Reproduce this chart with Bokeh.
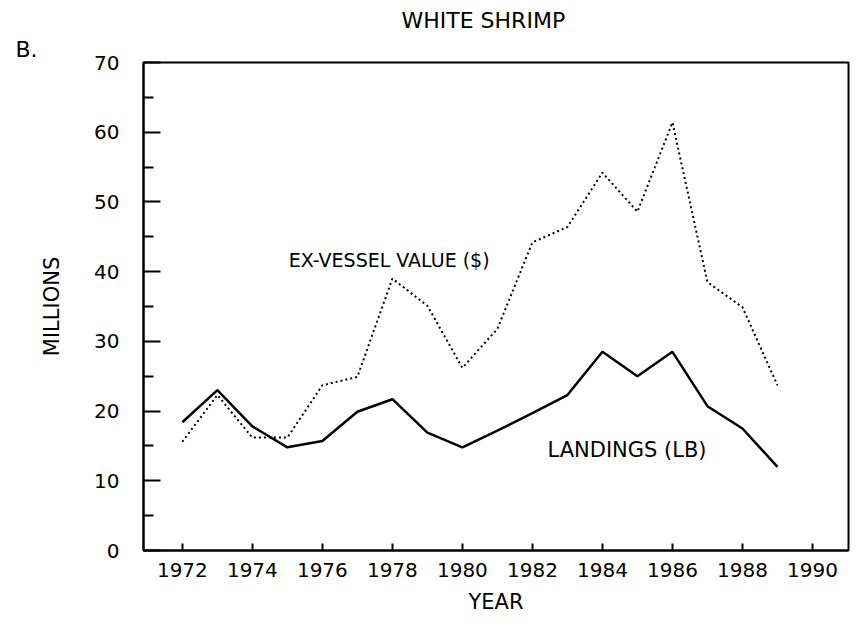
from bokeh.plotting import figure
from bokeh.models import Range1d, FixedTicker, Label, Title
from bokeh.embed import file_html
from bokeh.resources import INLINE

years = [1972, 1973, 1974, 1975, 1976, 1977, 1978, 1979, 1980,
         1981, 1982, 1983, 1984, 1985, 1986, 1987, 1988, 1989]
landings_lb = [18.4, 23.0, 17.8, 14.8, 15.7, 19.9, 21.7, 16.9, 14.8,
               17.2, 19.7, 22.3, 28.5, 25.0, 28.5, 20.7, 17.5, 12.0]
ex_vessel_value = [15.6, 22.3, 16.2, 16.2, 23.7, 24.9, 39.0, 35.1, 26.2,
                   31.8, 44.2, 46.4, 54.2, 48.6, 61.4, 38.5, 34.9, 23.7]
x_ticks = [1972, 1974, 1976, 1978, 1980, 1982, 1984, 1986, 1988, 1990]
y_ticks = [0, 10, 20, 30, 40, 50, 60, 70]
y_minor = [5, 15, 25, 35, 45, 55, 65]

FONT = "DejaVu Sans"

p = figure(width=850, height=620, output_backend="svg", toolbar_location=None,
           x_range=Range1d(1970.89, 1991.03), y_range=Range1d(0, 70),
           min_border_left=143, min_border_right=2,
           min_border_top=62, min_border_bottom=70)

p.background_fill_color = "white"
p.border_fill_color = "white"
p.outline_line_color = "black"
p.outline_line_width = 2
p.grid.visible = False

# titles above the frame
t_b = Title(text="B.", align="left", offset=-128, text_font=FONT,
            text_font_size="22px", text_font_style="normal",
            text_color="black", standoff=2)
t_main = Title(text="WHITE SHRIMP", align="left", offset=258, text_font=FONT,
               text_font_size="22px", text_font_style="normal",
               text_color="black", standoff=2)
p.add_layout(t_b, "above")
p.add_layout(t_main, "above")

# axes
p.xaxis.ticker = FixedTicker(ticks=x_ticks, minor_ticks=[])
p.yaxis.ticker = FixedTicker(ticks=y_ticks, minor_ticks=y_minor)
for ax in (p.xaxis, p.yaxis):
    ax.axis_line_color = "black"
    ax.axis_line_width = 2
    ax.major_tick_line_color = "black"
    ax.major_tick_line_width = 2
    ax.minor_tick_line_color = "black"
    ax.minor_tick_line_width = 2
    ax.major_tick_out = 0
    ax.minor_tick_out = 0
    ax.major_label_text_font = FONT
    ax.major_label_text_font_size = "20px"
    ax.major_label_text_color = "black"
    ax.axis_label_text_font = FONT
    ax.axis_label_text_font_style = "normal"
    ax.axis_label_text_color = "black"
p.xaxis.major_tick_in = 7
p.xaxis.minor_tick_in = 0
p.yaxis.major_tick_in = 17
p.yaxis.minor_tick_in = 10
p.xaxis.major_label_standoff = 12
p.yaxis.major_label_standoff = 24
p.xaxis.axis_label = "YEAR"
p.xaxis.axis_label_text_font_size = "21px"
p.xaxis.axis_label_standoff = 10
p.yaxis.axis_label = "MILLIONS"
p.yaxis.axis_label_text_font_size = "21px"
p.yaxis.axis_label_standoff = 27

# data lines
p.line(years, ex_vessel_value, line_color="black", line_width=2, line_dash="2 3")
p.line(years, landings_lb, line_color="black", line_width=2.5)

def add_label(text, x, y, size):
    p.add_layout(Label(x=x, y=y, text=text, text_font=FONT, text_font_size=size,
                       text_color="black", text_align="left",
                       text_baseline="alphabetic"))

add_label("EX-VESSEL VALUE ($)", 1975.04, 41.6, "19px")
add_label("LANDINGS (LB)", 1982.43, 14.4, "21px")

open("out.html", "w").write(file_html(p, INLINE))
